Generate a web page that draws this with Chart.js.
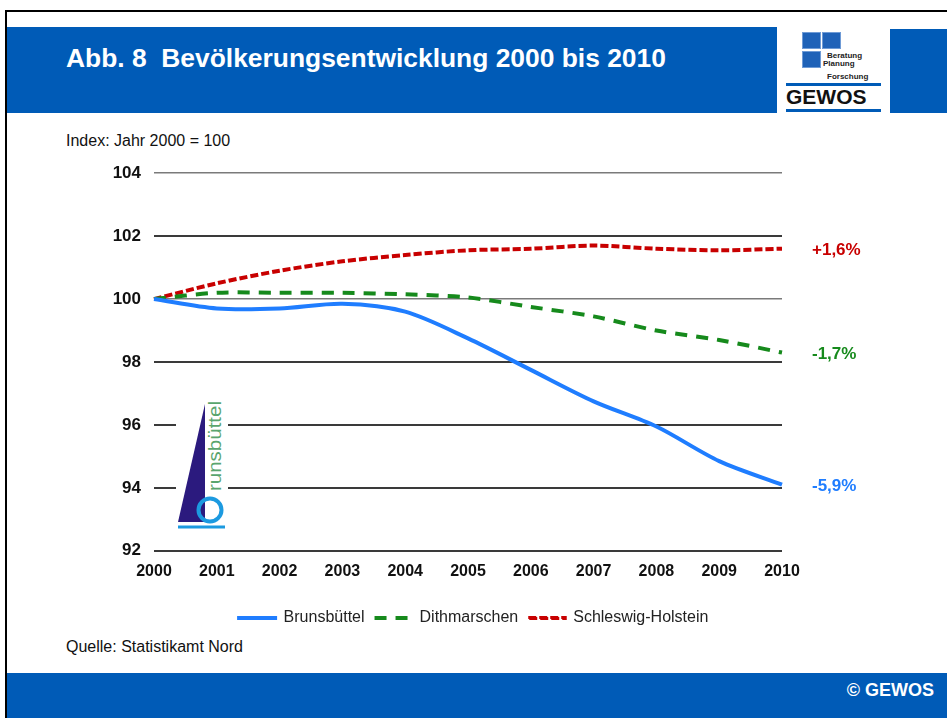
<!DOCTYPE html>
<html lang="de">
<head>
<meta charset="utf-8">
<title>Bevölkerungsentwicklung 2000 bis 2010</title>
<script src="https://cdn.jsdelivr.net/npm/chart.js@4.4.1/dist/chart.umd.min.js"></script>
<style>
  html, body { margin: 0; padding: 0; background: #fff; }
  body { width: 947px; height: 718px; position: relative; overflow: hidden; font-family: "Liberation Sans", Arial, sans-serif; }
  .abs { position: absolute; }
  #rahmenTop { left: 5px; top: 10px; width: 942px; height: 2px; background: #000; }
  #rahmenLeft { left: 5px; top: 10px; width: 2px; height: 708px; background: #000; }
  #kopf { left: 7px; top: 27px; width: 770px; height: 86px; background: #005bb7; }
  #kopfRechts { left: 890px; top: 29px; width: 57px; height: 84px; background: #005bb7; }
  #titel { left: 66px; top: 43px; color: #fff; font-weight: bold; font-size: 26.4px; white-space: pre; }
  .quadrat { background: #1f62b8; border: 1px solid #6f9bd6; box-sizing: border-box; width: 19px; height: 17px; }
  .logoText { font-size: 8px; line-height: 1; font-weight: bold; color: #222; }
  .logoLinie { left: 786px; width: 95px; height: 3px; background: #005bb7; }
  #gewos { left: 786px; top: 85px; font-size: 21px; font-weight: bold; color: #111; }
  #index { left: 66px; top: 132px; font-size: 16px; color: #111; }
  #quelle { left: 66px; top: 638px; font-size: 16px; color: #111; }
  #fuss { left: 7px; top: 673px; width: 940px; height: 45px; background: #005bb7; }
  #copy { right: 13px; top: 680px; color: #fff; font-weight: bold; font-size: 18px; }
  #chartBox { left: 0; top: 150px; width: 947px; height: 486px; }
  #stadtLogo { left: 174px; top: 396px; }
</style>
</head>
<body>
<div class="abs" id="rahmenTop"></div>
<div class="abs" id="rahmenLeft"></div>
<div class="abs" id="kopf"></div>
<div class="abs" id="kopfRechts"></div>
<div class="abs" id="titel">Abb. 8  Bevölkerungsentwicklung 2000 bis 2010</div>

<div class="abs quadrat" style="left:802px; top:32px;"></div>
<div class="abs quadrat" style="left:822px; top:32px;"></div>
<div class="abs quadrat" style="left:802px; top:51px;"></div>
<div class="abs logoText" style="left:827px; top:52px;">Beratung</div>
<div class="abs logoText" style="left:823px; top:60px;">Planung</div>
<div class="abs logoText" style="left:827px; top:73px;">Forschung</div>
<div class="abs logoLinie" style="top:83px;"></div>
<div class="abs" id="gewos">GEWOS</div>
<div class="abs logoLinie" style="top:109px;"></div>

<div class="abs" id="index">Index: Jahr 2000 = 100</div>

<div class="abs" id="chartBox"><canvas id="graficoLinhas"></canvas></div>

<svg class="abs" id="stadtLogo" width="56" height="140" viewBox="0 0 56 140">
  <rect x="2" y="0" width="52" height="137" fill="#fff"/>
  <polygon points="31,8 4,126 31,126" fill="#2b1a7e"/>
  <circle cx="36" cy="114" r="11.5" fill="none" stroke="#1c9ae0" stroke-width="4"/>
  <line x1="4" y1="131" x2="51" y2="131" stroke="#1c9ae0" stroke-width="3"/>
  <text transform="translate(47,95) rotate(-90)" font-family="Liberation Sans, Arial, sans-serif" font-size="19" fill="#5aa56e" textLength="90" lengthAdjust="spacingAndGlyphs">runsbüttel</text>
</svg>

<div class="abs" id="quelle">Quelle: Statistikamt Nord</div>
<div class="abs" id="fuss"></div>
<div class="abs" id="copy">© GEWOS</div>

<script>
const jahre = ['2000', '2001', '2002', '2003', '2004', '2005', '2006', '2007', '2008', '2009', '2010'];
const brunsbuettel = [100, 99.7, 99.7, 99.85, 99.6, 98.75, 97.75, 96.75, 95.95, 94.85, 94.1];
const dithmarschen = [100, 100.2, 100.2, 100.2, 100.15, 100.05, 99.75, 99.45, 99.0, 98.7, 98.3];
const schleswigHolstein = [100, 100.5, 100.9, 101.2, 101.4, 101.55, 101.6, 101.7, 101.6, 101.55, 101.6];
const yTicks = [92, 94, 96, 98, 100, 102, 104];

const fonte = '"Liberation Sans", Arial, sans-serif';

// Prozentwerte rechts neben dem letzten Punkt
const endLabels = {
  id: 'endLabels',
  afterDatasetsDraw(chart) {
    const ctx = chart.ctx;
    ctx.save();
    ctx.font = 'bold 17px ' + fonte;
    ctx.textBaseline = 'middle';
    ctx.textAlign = 'left';
    chart.data.datasets.forEach((ds, i) => {
      const meta = chart.getDatasetMeta(i);
      const last = meta.data[meta.data.length - 1];
      const diff = ds.data[ds.data.length - 1] - ds.data[0];
      const txt = (diff > 0 ? '+' : '') + diff.toFixed(1).replace('.', ',') + '%';
      ctx.fillStyle = ds.labelColor;
      ctx.fillText(txt, last.x + 30, last.y + 2);
    });
    ctx.restore();
  }
};

const ctxLine = document.getElementById('graficoLinhas').getContext('2d');
new Chart(ctxLine, {
  type: 'line',
  data: {
    labels: jahre,
    datasets: [{
      label: 'Brunsbüttel',
      data: brunsbuettel,
      borderColor: '#1f7dff',
      labelColor: '#1f7dff',
      borderWidth: 4,
      borderDash: [],
      pointRadius: 0,
      tension: 0.3
    }, {
      label: 'Dithmarschen',
      data: dithmarschen,
      borderColor: '#168a1c',
      labelColor: '#168a1c',
      borderWidth: 4,
      borderDash: [12, 9],
      pointRadius: 0,
      tension: 0.3
    }, {
      label: 'Schleswig-Holstein',
      data: schleswigHolstein,
      borderColor: '#c80000',
      labelColor: '#c80000',
      borderWidth: 4,
      borderDash: [8, 3],
      pointRadius: 0,
      tension: 0.3
    }]
  },
  options: {
    responsive: true,
    maintainAspectRatio: false,
    animation: false,
    layout: {
      padding: { top: 11, right: 0, left: 0, bottom: 0 }
    },
    scales: {
      y: {
        min: 92,
        max: 104,
        afterBuildTicks(scale) {
          scale.ticks = yTicks.map(v => ({ value: v }));
        },
        afterFit(scale) {
          scale.width = 154;
        },
        border: { display: false },
        grid: {
          drawTicks: false,
          color: ctx => (ctx.tick && (ctx.tick.value === 100 || ctx.tick.value === 104)) ? '#7a7a7a' : '#3a3a3a',
          lineWidth: ctx => (ctx.tick && (ctx.tick.value === 100 || ctx.tick.value === 104)) ? 1.5 : 2
        },
        ticks: {
          padding: 13,
          color: '#111',
          font: { family: fonte, size: 17, weight: 'bold' }
        }
      },
      // leerer Platz rechts fuer die Prozentwerte, damit die Legende mittig bleibt
      rechts: {
        position: 'right',
        min: 92,
        max: 104,
        border: { display: false },
        grid: { display: false },
        ticks: { display: false },
        afterFit(scale) {
          scale.width = 165;
        }
      },
      x: {
        offset: false,
        border: { display: false },
        grid: { display: false },
        afterFit(scale) {
          scale.height += 16;
        },
        ticks: {
          padding: 3,
          maxRotation: 0,
          color: '#111',
          font: { family: fonte, size: 16, weight: 'bold' }
        }
      }
    },
    plugins: {
      legend: {
        display: true,
        position: 'bottom',
        labels: {
          color: '#222',
          boxWidth: 37,
          boxHeight: 1,
          padding: 10,
          font: { family: fonte, size: 16 },
          generateLabels(chart) {
            return chart.data.datasets.map((ds, i) => ({
              text: ds.label,
              fillStyle: 'rgba(0,0,0,0)',
              strokeStyle: ds.borderColor,
              lineWidth: 3,
              lineDash: ds.borderDash,
              fontColor: '#222',
              datasetIndex: i,
              hidden: false
            }));
          }
        }
      },
      tooltip: { enabled: false }
    }
  },
  plugins: [endLabels]
});
</script>
</body>
</html>
